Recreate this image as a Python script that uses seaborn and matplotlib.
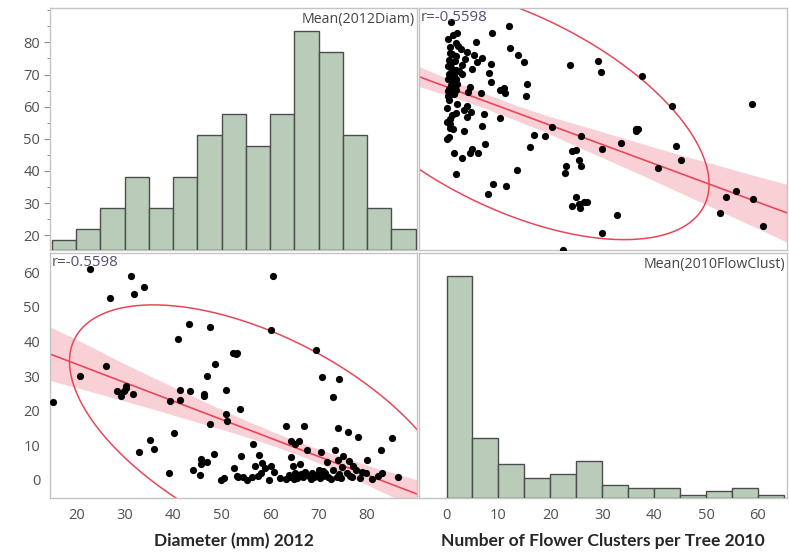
"""Scatterplot matrix: 2012 diameter vs 2010 flower clusters (JMP style)."""

import numpy as np
import pandas as pd
import matplotlib.pyplot as plt
import seaborn as sns
from matplotlib.ticker import FixedLocator, MultipleLocator

sns.set_style("white")
plt.rcParams["font.family"] = ["Open Sans", "DejaVu Sans"]

diameter_2012 = [
    15.3, 22.8, 26.9, 31.4, 31.9, 33.9, 26.2, 20.8, 28.5, 29.2, 29.8, 30.2, 30.3,
    31.8, 32.9, 35.3, 36.0, 39.4, 39.2, 40.2, 40.9, 41.5, 41.5, 43.3, 43.5, 44.0,
    45.5, 45.7, 45.7, 46.3, 46.4, 46.9, 46.9, 47.5, 47.7, 48.4, 48.6, 49.9, 50.8,
    51.0, 51.1, 52.3, 52.5, 53.0, 53.2, 53.2, 53.4, 53.7, 54.0, 54.5, 55.2, 56.3,
    56.4, 56.8, 57.7, 58.1, 58.4, 59.0, 59.7, 60.1, 60.2, 60.7, 60.9, 63.2, 63.3,
    64.0, 64.3, 64.3, 64.7, 64.9, 65.2, 65.1, 65.9, 66.1, 66.4, 66.9, 67.1, 67.6,
    68.5, 68.7, 69.0, 69.4, 69.7, 70.1, 70.5, 70.7, 70.9, 71.4, 71.8, 71.9, 73.0,
    73.0, 73.3, 73.7, 74.0, 74.0, 74.2, 74.2, 74.9, 75.1, 76.0, 76.2, 76.4, 76.8,
    77.1, 78.1, 79.0, 79.8, 80.0, 82.2, 82.8, 85.2, 86.4,
    62.0, 63.8, 65.5, 66.8, 68.0, 70.3, 71.0, 72.5, 74.6, 75.8, 77.8, 78.5, 81.0,
    83.0, 50.5, 57.5,
]
flower_clusters_2010 = [
    22.5, 61.0, 52.7, 59.0, 53.8, 55.7, 32.8, 29.9, 25.7, 24.1, 25.6, 27.0, 26.4,
    24.9, 8.0, 11.4, 8.9, 22.9, 1.9, 13.5, 40.8, 25.9, 23.0, 45.1, 25.6, 2.9,
    1.4, 6.1, 4.5, 24.1, 24.9, 5.0, 29.9, 16.1, 44.2, 7.4, 33.6, 0.0, 26.0,
    19.0, 16.9, 36.6, 3.4, 36.5, 36.8, 1.2, 0.7, 20.4, 6.9, 0.7, 0.0, 0.7,
    10.4, 4.0, 7.2, 1.9, 4.8, 3.4, 0.0, 43.4, 4.0, 58.8, 2.1, 15.4, 0.2,
    0.8, 6.6, 11.2, 4.1, 0.2, 1.9, 10.4, 11.1, 4.6, 1.7, 15.6, 2.1, 8.5,
    0.2, 1.9, 0.8, 37.6, 1.4, 2.9, 8.1, 29.7, 1.2, 1.9, 5.0, 0.8, 23.8,
    2.9, 8.5, 0.8, 5.8, 14.9, 29.1, 1.6, 3.6, 6.8, 13.7, 5.3, 1.0, 0.7,
    4.0, 12.3, 2.2, 1.9, 5.6, 1.2, 8.7, 12.0, 0.8,
    0.5, 1.5, 0.5, 0.9, 1.2, 0.4, 2.5, 0.3, 0.4, 1.8, 2.8, 0.6, 0.3,
    2.0, 0.4, 1.0,
]

# histogram bins shown on the diagonal
diam_bin_edges = [15, 20, 25, 30, 35, 40, 45, 50, 55, 60, 65, 70, 75, 80, 85, 90]
diam_bin_counts = [1, 2, 4, 7, 4, 7, 11, 13, 10, 13, 21, 19, 11, 4, 2]
flow_bin_edges = [0, 5, 10, 15, 20, 25, 30, 35, 40, 45, 50, 55, 60, 65]
flow_bin_counts = [66, 18, 10, 6, 7, 11, 4, 3, 3, 1, 2, 3, 1]

diam_ticks = [20, 30, 40, 50, 60, 70, 80]
flow_ticks = [0, 10, 20, 30, 40, 50, 60]

r_label = "r=-0.5598"
diam_mean_label = "Mean(2012Diam)"
flow_mean_label = "Mean(2010FlowClust)"
diam_title = "Diameter (mm) 2012"
flow_title = "Number of Flower Clusters per Tree 2010"

DIAM_XLIM = (14.6, 90.3)
DIAM_YLIM = (15.4, 90.7)
FLOW_LIM = (-5.3, 65.6)

RED = "#e8475a"
BAND = "#f08a98"
BAR = "#b9cbb9"
BAR_EDGE = "#4d4d4d"
SPINE = "#c4c4c4"
TICK_TXT = "#505050"

df = pd.DataFrame({"diam": diameter_2012, "flow": flower_clusters_2010})


def style_axes(ax):
    for sp in ax.spines.values():
        sp.set_color(SPINE)
        sp.set_linewidth(1.0)
    ax.tick_params(which="major", direction="out", length=4, width=0.8,
                   color="#8a8a8a", labelcolor=TICK_TXT, labelsize=10.5, pad=3)
    ax.tick_params(which="minor", direction="out", length=2.5, width=0.7,
                   color="#8a8a8a")
    ax.set_xlabel("")
    ax.set_ylabel("")


def draw_hist(ax, edges, counts):
    tw = ax.twinx()
    centers = np.array(edges[:-1]) + np.diff(edges) / 2
    sns.histplot(x=centers, weights=counts, bins=edges, ax=tw, color=BAR,
                 edgecolor=BAR_EDGE, linewidth=1.0, alpha=1)
    tw.set_ylim(0, max(counts) / 0.905)
    tw.set_yticks([])
    tw.set_ylabel("")
    for sp in tw.spines.values():
        sp.set_visible(False)
    return tw


def draw_ellipse(ax, x, y):
    xy = np.column_stack([x, y])
    mu = xy.mean(axis=0)
    vals, vecs = np.linalg.eigh(np.cov(xy, rowvar=False))
    t = np.linspace(0, 2 * np.pi, 400)
    circ = np.vstack([np.cos(t), np.sin(t)])
    pts = vecs @ (np.sqrt(vals)[:, None] * circ) * np.sqrt(5.991) + mu[:, None]
    ax.plot(pts[0], pts[1], color=RED, lw=1.1, zorder=2)


def draw_scatter(ax, x, y):
    sns.regplot(data=df, x=x, y=y, ax=ax, ci=95, seed=3, truncate=False,
                color=RED,
                scatter_kws=dict(s=27, color="black", alpha=1, linewidths=0, zorder=3),
                line_kws=dict(lw=1.2, zorder=2))
    # recolour the confidence band
    band = ax.collections[-1]
    band.set_facecolor(BAND)
    band.set_alpha(0.4)
    band.set_edgecolor("none")
    draw_ellipse(ax, df[x], df[y])
    ax.text(0.004, 0.99, r_label, transform=ax.transAxes, ha="left", va="top",
            fontsize=10.8, color="#5c4c70", zorder=5)


def set_ticks(axis, majors):
    axis.set_major_locator(FixedLocator(majors))
    axis.set_minor_locator(MultipleLocator(5))


fig = plt.figure(figsize=(7.89, 5.53), dpi=100)
fig.patch.set_facecolor("white")

ax_tl = fig.add_axes([50 / 789, 1 - 250 / 553, 367 / 789, 242 / 553])
ax_tr = fig.add_axes([419 / 789, 1 - 250 / 553, 368 / 789, 242 / 553])
ax_bl = fig.add_axes([50 / 789, 1 - 498 / 553, 367 / 789, 245 / 553])
ax_br = fig.add_axes([419 / 789, 1 - 498 / 553, 368 / 789, 245 / 553])

# top-left: diameter histogram
ax_tl.set_xlim(*DIAM_XLIM)
ax_tl.set_ylim(*DIAM_YLIM)
draw_hist(ax_tl, diam_bin_edges, diam_bin_counts)
ax_tl.set_xlim(*DIAM_XLIM)
set_ticks(ax_tl.yaxis, diam_ticks)
ax_tl.set_xticks([])
style_axes(ax_tl)
ax_tl.text(0.995, 0.985, diam_mean_label, transform=ax_tl.transAxes,
           ha="right", va="top", fontsize=10.2, color="#444444", zorder=5)

# top-right: flowers (x) vs diameter (y)
ax_tr.set_xlim(*FLOW_LIM)
ax_tr.set_ylim(*DIAM_YLIM)
draw_scatter(ax_tr, "flow", "diam")
ax_tr.set_xlim(*FLOW_LIM)
ax_tr.set_ylim(*DIAM_YLIM)
ax_tr.set_xticks([])
ax_tr.set_yticks([])
style_axes(ax_tr)

# bottom-left: diameter (x) vs flowers (y)
ax_bl.set_xlim(*DIAM_XLIM)
ax_bl.set_ylim(*FLOW_LIM)
draw_scatter(ax_bl, "diam", "flow")
ax_bl.set_xlim(*DIAM_XLIM)
ax_bl.set_ylim(*FLOW_LIM)
set_ticks(ax_bl.xaxis, diam_ticks)
set_ticks(ax_bl.yaxis, flow_ticks)
style_axes(ax_bl)

# bottom-right: flower cluster histogram
ax_br.set_xlim(*FLOW_LIM)
draw_hist(ax_br, flow_bin_edges, flow_bin_counts)
ax_br.set_xlim(*FLOW_LIM)
set_ticks(ax_br.xaxis, flow_ticks)
ax_br.set_yticks([])
style_axes(ax_br)
ax_br.text(0.995, 0.985, flow_mean_label, transform=ax_br.transAxes,
           ha="right", va="top", fontsize=10.2, color="#444444", zorder=5)

fig.text((50 + 417) / 2 / 789, 1 - 541 / 553, diam_title, ha="center",
         va="center", fontsize=12.5, fontweight="bold", family=["Lato", "DejaVu Sans"])
fig.text((419 + 787) / 2 / 789, 1 - 541 / 553, flow_title, ha="center",
         va="center", fontsize=12.5, fontweight="bold", family=["Lato", "DejaVu Sans"])

fig.savefig("out.png", dpi=100)
